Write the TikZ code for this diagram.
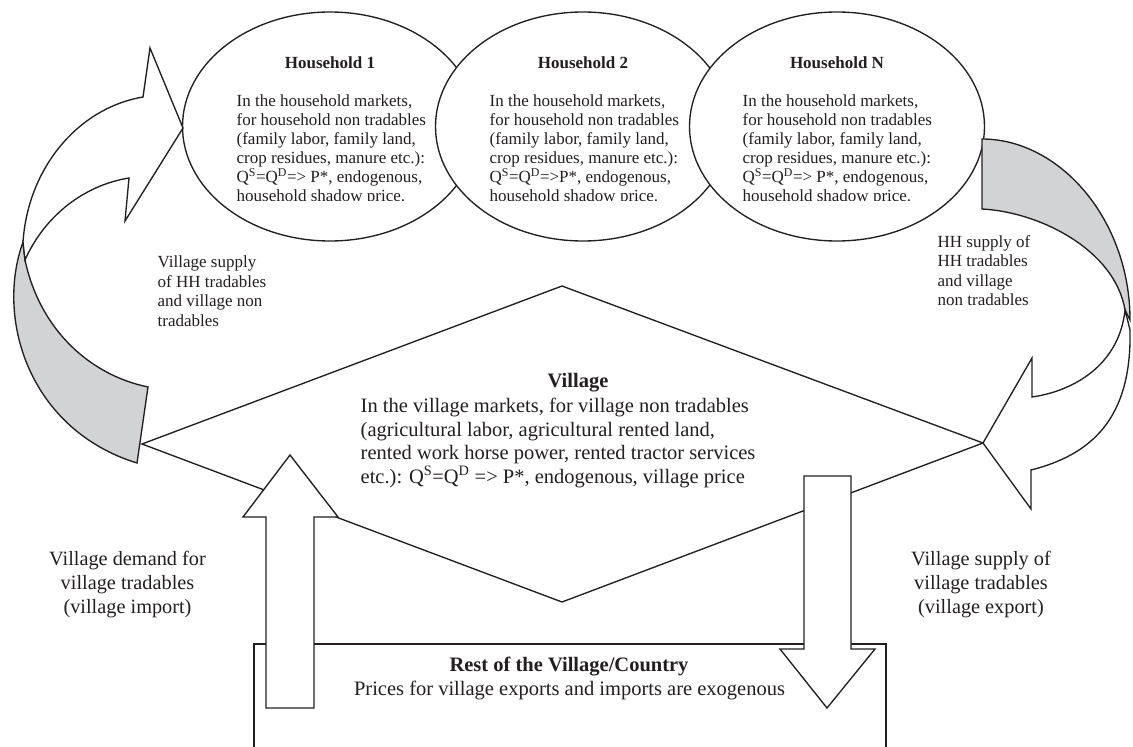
\documentclass[tikz,border=0pt]{standalone}
\usepackage{fontspec}
\setmainfont{Liberation Serif}
\usetikzlibrary{shapes.geometric}
\definecolor{ink}{RGB}{35,31,32}
\definecolor{ribbon}{RGB}{209,211,212}
\begin{document}
\begin{tikzpicture}[x=1pt,y=-1pt,line width=1.35pt,line join=miter,
  hh/.style={ellipse,draw=ink,fill=white,minimum width=295pt,minimum height=229pt,inner sep=0pt},
  hhtitle/.style={font=\fontsize{17}{19}\selectfont\bfseries,text=ink,inner sep=0pt},
  hhbody/.style={font=\fontsize{17}{19}\selectfont,text=ink,align=left,anchor=north west,inner sep=0pt},
  smalllabel/.style={font=\fontsize{17}{19.5}\selectfont,text=ink,align=left,anchor=north west,inner sep=0pt},
  biglabel/.style={font=\fontsize{20.3}{24}\selectfont,text=ink,align=center,anchor=north,inner sep=0pt},
  vtitle/.style={font=\fontsize{20.5}{23.5}\selectfont\bfseries,text=ink,inner sep=0pt},
  vbody/.style={font=\fontsize{20.5}{23.5}\selectfont,text=ink,align=left,anchor=north west,inner sep=0pt},
  whiteshape/.style={draw=ink,fill=white},
  greyshape/.style={draw=ink,fill=ribbon}]
\clip (0,0) rectangle (1133,747);
\fill[white] (0,0) rectangle (1133,747);

% village diamond
\coordinate (vl) at (142,444);
\coordinate (vt) at (562,286);
\coordinate (vr) at (983,443);
\coordinate (vb) at (562,602);
\draw[whiteshape] (vl) -- (vt) -- (vr) -- (vb) -- cycle;

% households
\node[hh] (h1) at (330,126.5) {};
\node[hh] (h2) at (583,126.5) {};
\node[hh] (h3) at (837,126.5) {};

% left ribbon arrow
\draw[greyshape] (23,242) .. controls (-5,320) and (30,430) .. (137,463) -- (148,387)
   .. controls (90,375) and (40,330) .. (25,260) -- cycle;
\draw[whiteshape] (25,260) .. controls (45,215) and (85,185) .. (129,178) -- (125,221) -- (183,128)
   -- (150,48) -- (143,97) .. controls (78,108) and (28,168) .. (23,242) -- cycle;

% right ribbon arrow
\draw[greyshape] (982,139) .. controls (1060,139) and (1130,220) .. (1130,320) -- (1125,310)
   .. controls (1115,250) and (1040,212) .. (982,209) -- cycle;
\draw[whiteshape] (1125,310) .. controls (1120,360) and (1080,390) .. (1032,397) -- (1032,358)
   -- (983,443) -- (1031,509) -- (1031,470) .. controls (1090,455) and (1132,420) .. (1130,330) -- cycle;

% household texts
\node[hhtitle] (t1) at (330,63) {Household 1};
\node[hhtitle] (t2) at (583,63) {Household 2};
\node[hhtitle] (t3) at (837,63) {Household N};
\begin{scope}
\clip (150,0) rectangle (1000,200.5);
\node[hhbody] (b1) at (236,94.4) {In the household markets,\\for household non tradables\\(family labor, family land,\\crop residues, manure etc.):\\Q\textsuperscript{S}=Q\textsuperscript{D}=> P*, endogenous,\\household shadow price.};
\node[hhbody] (b2) at (489,94.4) {In the household markets,\\for household non tradables\\(family labor, family land,\\crop residues, manure etc.):\\Q\textsuperscript{S}=Q\textsuperscript{D}=>P*, endogenous,\\household shadow price.};
\node[hhbody] (b3) at (742,94.4) {In the household markets,\\for household non tradables\\(family labor, family land,\\crop residues, manure etc.):\\Q\textsuperscript{S}=Q\textsuperscript{D}=> P*, endogenous,\\household shadow price.};
\end{scope}

% side labels
\node[smalllabel] (ls) at (157,255.4) {Village supply\\of HH tradables\\and village non\\tradables};
\node[smalllabel] (rs) at (937,234.4) {HH supply of\\HH tradables\\and village\\non tradables};

% village text
\node[vtitle] (vtit) at (578,383) {Village};
\node[vbody] (vbod) at (360,397.5) {In the village markets, for village non tradables\\(agricultural labor, agricultural rented land,\\rented work horse power, rented tractor services\\etc.): Q\textsuperscript{S}=Q\textsuperscript{D} => P*, endogenous, village price};

% bottom labels
\node[biglabel] (imp) at (127.5,550.5) {Village demand for\\village tradables\\(village import)};
\node[biglabel] (exp) at (981,550.5) {Village supply of\\village tradables\\(village export)};

% rest of village box
\coordinate (rbl) at (254,760);
\coordinate (rtl) at (254,644);
\coordinate (rtr) at (886,644);
\coordinate (rbr) at (886,760);
\draw[whiteshape] (rbl) -- (rtl) -- (rtr) -- (rbr);

% import (up) arrow
\draw[whiteshape] (290,455) -- (338,517) -- (314,517) -- (314,708) -- (266,708) -- (266,517) -- (243,517) -- cycle;
% export (down) arrow
\draw[whiteshape] (804,476) -- (851,476) -- (851,649) -- (875,649) -- (827,708) -- (780,649) -- (804,649) -- cycle;

\node[vtitle] (rtit) at (569,667) {Rest of the Village/Country};
\node[font=\fontsize{20.5}{23.5}\selectfont,text=ink,inner sep=0pt] (rbod) at (569.5,690) {Prices for village exports and imports are exogenous};
\end{tikzpicture}
\end{document}
